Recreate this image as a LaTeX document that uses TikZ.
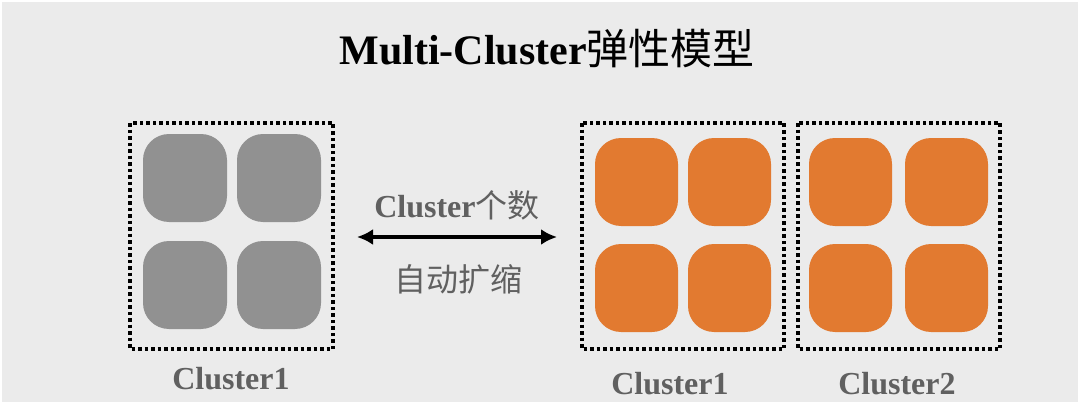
\documentclass[tikz,border=0pt]{standalone}
\usepackage{fontspec}
\setmainfont{Liberation Serif}
\newfontfamily\cjk{Noto Sans CJK SC}
\usetikzlibrary{arrows.meta}

\definecolor{bggray}{HTML}{EBEBEB}
\definecolor{podgray}{HTML}{919191}
\definecolor{podorange}{HTML}{E27A30}
\definecolor{labelgray}{HTML}{606060}

\tikzset{
  clusterbox/.style={draw=black, line width=3.5pt, dash pattern=on 3.5pt off 3pt},
  pod/.style={rounded corners=26pt},
  caption/.style={text=labelgray, font=\fontsize{32}{32}\selectfont\bfseries, inner sep=0pt}
}

\begin{document}
\begin{tikzpicture}[x=1pt,y=-1pt]
    % background
    \useasboundingbox (0,0) rectangle (1080,412);
    \fill[bggray] (2,2) rectangle (1078,402);
    \node[inner sep=0pt, font=\fontsize{42}{42}\selectfont] (title) at (547,49)
        {\textbf{Multi-Cluster}{\cjk\mdseries 弹性模型}};

    % before: one cluster
    \draw[clusterbox] (130,123) rectangle (333,349);
    \foreach \x in {143,237}
      \foreach \y in {134,241}
        \fill[podgray,pod] (\x,\y) rectangle ++(84,88);
    \node[caption] (left1) at (231,379) {Cluster1};

    % scaling arrow
    \coordinate (from) at (357,237);
    \coordinate (to) at (557,237);
    \draw[{Latex[length=16pt,width=16pt]}-{Latex[length=16pt,width=16pt]},line width=3.5pt] (from) -- (to);
    \node[caption] (count) at (457,205) {Cluster{\cjk\mdseries 个数}};
    \node[caption] (scale) at (458,279) {\cjk\mdseries 自动扩缩};

    % after: two clusters
    \draw[clusterbox] (582,123) rectangle (784,349);
    \draw[clusterbox] (798,123) rectangle (1000,349);
    \foreach \x in {595,688,809,905}
      \foreach \y in {138,244}
        \fill[podorange,pod] (\x,\y) rectangle ++(83,88);
    \node[caption] (right1) at (670,384) {Cluster1};
    \node[caption] (right2) at (897,384) {Cluster2};
\end{tikzpicture}
\end{document}
